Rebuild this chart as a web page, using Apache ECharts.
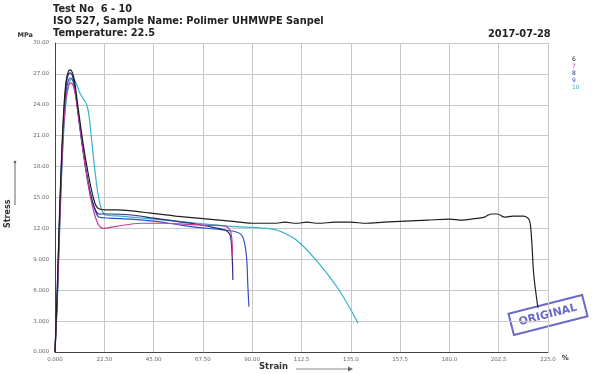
<!DOCTYPE html>
<html><head><meta charset="utf-8">
<script src="https://cdn.jsdelivr.net/npm/echarts@6/dist/echarts.min.js"></script>
<style>html,body{margin:0;padding:0;background:#fff}#c{width:603px;height:374px}</style>
</head><body><div id="c"></div>
<script>
// ---- data ----
const seriesNames = ['6','7','8','9','10'];
const seriesColors = ['#1e1e1e','#c23c9c','#2c2c86','#3050c8','#34b4cc'];
const xTickValues = [0,22.5,45,67.5,90,112.5,135,157.5,180,202.5,225];
const xTickLabels = ['0.000','22.50','45.00','67.50','90.00','112.5','135.0','157.5','180.0','202.5','225.0'];
const yTickValues = [0,3,6,9,12,15,18,21,24,27,30];
const yTickLabels = ['0.000','3.000','6.000','9.000','12.00','15.00','18.00','21.00','24.00','27.00','30.00'];

const s6 = [[0,0],[1,6],[2,13],[3,19],[4,23.5],[5,26.2],[6,27.2],[7,27.4],[8,27.1],[9,26.2],[10,24.6],[11,23],[13,20],[15,17.5],[17,15.4],[18.5,14.3],[20,13.9],[23,13.8],[28,13.8],[35,13.7],[43,13.5],[55,13.2],[70,12.9],[80,12.7],[90,12.5],[100,12.5],[105,12.6],[110,12.5],[115,12.6],[120,12.5],[128,12.6],[135,12.6],[142,12.5],[150,12.6],[160,12.7],[170,12.8],[180,12.9],[186,12.8],[190,12.9],[196,13.1],[199,13.4],[202,13.4],[205,13.1],[209,13.2],[214,13.2],[216.5,12.8],[217.5,11],[218.5,7.5],[220.4,4.3]];
const s7 = [[0,0],[1,5],[2,11.5],[3,17.5],[4,22],[5,24.6],[6,25.7],[7,26.1],[8,26],[9,25.3],[10,24],[12,20.8],[14,17.8],[16,15.2],[18,13.4],[20,12.3],[22,12.0],[28,12.2],[39,12.5],[50,12.5],[60,12.4],[70,12.3],[78,12.2],[80.3,11.6],[81,9.5]];
const s8 = [[0,0],[1,5.5],[2,12.5],[3,18.5],[4,23],[5,25.8],[6,26.9],[7,27.1],[8,26.8],[9,25.8],[10,24.1],[12,20.7],[14,17.8],[16,15.5],[18,14],[20,13.4],[25,13.4],[35,13.3],[45,13.0],[55,12.7],[65,12.4],[72,12.1],[78,11.8],[80,11.3],[80.8,9.5],[81.2,7.0]];
const s9 = [[0,0],[1,5],[2,12],[3,18],[4,22.5],[5,25.2],[6,26.3],[7,26.6],[8,26.4],[9,25.6],[10,24.1],[12,21],[14,18],[16,15.6],[18,14],[20,13.1],[25,13.0],[35,12.9],[45,12.7],[55,12.4],[65,12.1],[75,11.9],[82,11.7],[85,11.4],[86.5,10.6],[87.5,9],[88,6.5],[88.5,4.4]];
const s10 = [[0,0],[1,4.5],[2,11],[3,17],[4,21.5],[5,24.2],[6,25.7],[7,26.4],[8,26.6],[9,26.4],[10,25.9],[11,25.3],[12,24.9],[13.5,24.4],[14.5,24],[15.5,23],[16.5,21],[18,18],[19.5,15.5],[21,14],[23,13.3],[30,13.2],[40,13],[50,12.8],[60,12.6],[70,12.4],[80,12.2],[90,12.1],[100,11.9],[105,11.5],[110,10.9],[115,9.9],[120,8.7],[125,7.4],[130,5.9],[135,4.1],[138.3,2.8]];
const seriesData = [s6,s7,s8,s9,s10];

// ---- chart ----
const chart = echarts.init(document.getElementById('c'), null, {renderer:'canvas'});
const fmt = (vals, labels) => v => { const i = vals.findIndex(t => Math.abs(t - v) < 1e-6); return i >= 0 ? labels[i] : ''; };
const titleFont = {fontFamily:'DejaVu Sans', fontWeight:'bold', fontSize:9.8, fill:'#222'};
chart.setOption({
  animation:false,
  backgroundColor:'#fff',
  grid:{left:55,right:55,top:43,bottom:22,containLabel:false},
  legend:{
    orient:'vertical', left:562, top:51, itemGap:1, itemWidth:0, itemHeight:6, icon:'none',
    textStyle:{fontSize:6, fontFamily:'DejaVu Sans', padding:0},
    data: seriesNames.map((n,i)=>({name:n, textStyle:{color:seriesColors[i]}})),
    selectedMode:false
  },
  xAxis:{
    type:'value', min:0, max:225, interval:22.5,
    name:'%', nameLocation:'end', nameGap:12,
    nameTextStyle:{fontSize:7, fontWeight:'bold', color:'#333', fontFamily:'DejaVu Sans', verticalAlign:'top', padding:[3,0,0,0]},
    axisLine:{show:true, lineStyle:{color:'#444', width:1}},
    axisTick:{show:false},
    splitLine:{show:true, lineStyle:{color:'#c8c8c8', width:1}},
    axisLabel:{fontSize:5.5, color:'#666', fontFamily:'DejaVu Sans', margin:5, formatter:fmt(xTickValues,xTickLabels)}
  },
  yAxis:{
    type:'value', min:0, max:30, interval:3,
    name:'MPa', nameLocation:'end', nameGap:4,
    nameTextStyle:{fontSize:6.5, fontWeight:'bold', color:'#333', fontFamily:'DejaVu Sans', align:'right', padding:[0,22,0,0]},
    axisLine:{show:true, lineStyle:{color:'#444', width:1}},
    axisTick:{show:false},
    splitLine:{show:true, lineStyle:{color:'#c8c8c8', width:1}},
    axisLabel:{fontSize:5.5, color:'#666', fontFamily:'DejaVu Sans', margin:6, formatter:fmt(yTickValues,yTickLabels)}
  },
  series: seriesNames.map((n,i)=>({
    name:n, type:'line', data:seriesData[i], showSymbol:false, smooth:0.3,
    lineStyle:{color:seriesColors[i], width:1.2}, itemStyle:{color:seriesColors[i]}, z: 10 - i
  })),
  graphic:[
    {type:'text', left:53, top:4, style:Object.assign({text:'Test No  6 - 10'}, titleFont)},
    {type:'text', left:53, top:16, style:Object.assign({text:'ISO 527, Sample Name: Polimer UHMWPE Sanpel'}, titleFont)},
    {type:'text', left:53, top:28, style:Object.assign({text:'Temperature: 22.5'}, titleFont)},
    {type:'text', left:488, top:29, style:Object.assign({text:'2017-07-28'}, titleFont)},
    {type:'text', x:8, y:228, rotation:Math.PI/2, style:{text:'Stress', fontFamily:'DejaVu Sans', fontWeight:'bold', fontSize:8, fill:'#333', align:'left', verticalAlign:'middle'}},
    {type:'line', shape:{x1:15, y1:205, x2:15, y2:162}, style:{stroke:'#666', lineWidth:1}},
    {type:'circle', shape:{cx:15, cy:162, r:1.3}, style:{fill:'#666'}},
    {type:'text', left:259, top:362, style:{text:'Strain', fontFamily:'DejaVu Sans', fontWeight:'bold', fontSize:8.5, fill:'#333'}},
    {type:'line', shape:{x1:296, y1:369, x2:348, y2:369}, style:{stroke:'#888', lineWidth:1}},
    {type:'polygon', shape:{points:[[348,366.5],[353,369],[348,371.5]]}, style:{fill:'#666'}},
    {type:'group', x:548, y:315, rotation:0.25, children:[
      {type:'rect', shape:{x:-38, y:-11, width:76, height:22}, style:{fill:'rgba(0,0,0,0)', stroke:'#6a6ac8', lineWidth:2}},
      {type:'text', style:{text:'ORIGINAL', x:0, y:0, align:'center', verticalAlign:'middle', fontFamily:'DejaVu Sans', fontWeight:'bold', fontSize:11, fill:'#6a6ac8'}}
    ]}
  ]
});
</script></body></html>
